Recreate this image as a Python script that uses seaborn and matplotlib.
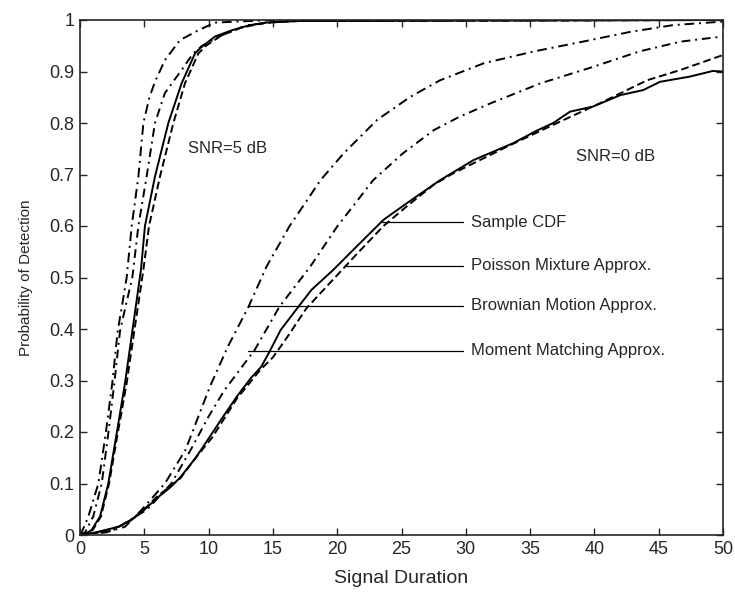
import matplotlib
matplotlib.use('Agg')
from matplotlib import pyplot as plt
import pandas as pd
import seaborn as sns

# curve names
sample = 'Sample CDF'
poisson = 'Poisson Mixture Approx.'
brownian = 'Brownian Motion Approx.'
moment = 'Moment Matching Approx.'

# SNR = 5 dB
sc5_x = [0, 0.5, 0.91, 1.56, 2.2, 2.85, 3.5, 4.07, 4.74, 5.05, 5.83, 6.87, 7.9, 8.94, 9.33, 10.5, 11.8, 13.2, 14.5, 17, 50]
sc5_y = [0, 0.003, 0.01, 0.036, 0.10, 0.197, 0.295, 0.396, 0.515, 0.60, 0.696, 0.80, 0.877, 0.935, 0.945, 0.968, 0.98, 0.99, 0.995, 0.998, 1.0]
pm5_x = [0, 1.0, 1.63, 2.26, 2.93, 3.63, 4.22, 4.93, 5.37, 6.22, 7.26, 8.16, 9.2, 9.8, 11, 12.5, 14.5, 17, 50]
pm5_y = [0, 0.01, 0.036, 0.10, 0.197, 0.295, 0.396, 0.515, 0.60, 0.696, 0.80, 0.877, 0.935, 0.95, 0.97, 0.985, 0.995, 0.998, 1.0]
bm5_x = [0, 0.13, 0.65, 1.43, 2.0, 2.51, 2.93, 3.3, 3.63, 4.02, 4.54, 4.93, 5.4, 5.83, 6.6, 7.78, 9.2, 10.5, 15, 50]
bm5_y = [0, 0.005, 0.036, 0.10, 0.197, 0.295, 0.396, 0.45, 0.50, 0.60, 0.696, 0.80, 0.85, 0.88, 0.922, 0.961, 0.98, 0.995, 1.0, 1.0]
mm5_x = [0, 0.39, 1.03, 1.69, 2.2, 2.67, 3.11, 3.6, 4.07, 4.54, 5.18, 5.83, 6.6, 7.9, 8.8, 9.5, 11, 13, 16, 50]
mm5_y = [0, 0.005, 0.036, 0.10, 0.197, 0.295, 0.396, 0.45, 0.50, 0.60, 0.696, 0.80, 0.858, 0.903, 0.935, 0.95, 0.97, 0.99, 0.998, 1.0]

# SNR = 0 dB
sc0_x = [0, 1.2, 3.0, 4.0, 5.0, 6.1, 7.0, 7.8, 9.0, 10.1, 11.0, 12.2, 13.3, 14.1, 14.8, 15.6, 17.1, 18.0, 19.7, 21.5, 23.6,
         25.4, 28.0, 30.6, 33.7, 35.5, 36.8, 38.1, 39.9, 42.0, 43.8, 45.1, 47.4, 49.2, 50]
sc0_y = [0, 0.005, 0.016, 0.029, 0.049, 0.074, 0.092, 0.112, 0.15, 0.191, 0.225, 0.269, 0.305, 0.327, 0.359, 0.398, 0.447, 0.476, 0.515, 0.56, 0.612,
         0.644, 0.689, 0.728, 0.761, 0.785, 0.80, 0.822, 0.832, 0.854, 0.864, 0.88, 0.89, 0.901, 0.90]
pm0_x = [0, 1.5, 3.0, 4.0, 5.0, 6.0, 7.8, 9.0, 10.3, 12.2, 14.0, 15.0, 16.0, 17.6, 20.2, 21.5, 23.6, 25.4, 27.5, 29.0,
         33.2, 37.1, 40.4, 44.1, 46.7, 50]
pm0_y = [0, 0.005, 0.016, 0.03, 0.05, 0.075, 0.11, 0.15, 0.19, 0.265, 0.32, 0.345, 0.38, 0.44, 0.51, 0.545, 0.60, 0.638, 0.68, 0.702,
         0.754, 0.80, 0.838, 0.883, 0.903, 0.932]
bm0_x = [0, 2.0, 3.5, 4.8, 6.6, 8.2, 10.1, 11.5, 13.1, 14.5, 16.3, 17.6, 18.7, 20.5, 23.1, 25.7, 28.0, 31.4, 35.3, 39.1, 42.8, 46.1, 50]
bm0_y = [0, 0.005, 0.016, 0.049, 0.10, 0.165, 0.288, 0.366, 0.443, 0.521, 0.60, 0.648, 0.689, 0.741, 0.806, 0.851, 0.883, 0.916, 0.939, 0.958, 0.977, 0.99, 0.997]
mm0_x = [0, 2.5, 5.2, 7.1, 8.6, 10.0, 11.2, 12.4, 13.6, 15.5, 17.9, 20.0, 22.8, 25.1, 27.5, 29.5, 31.9, 35.8, 39.9, 43.5, 46.7, 50]
mm0_y = [0, 0.008, 0.049, 0.10, 0.165, 0.23, 0.28, 0.32, 0.36, 0.443, 0.521, 0.599, 0.689, 0.741, 0.786, 0.812, 0.838, 0.877, 0.909, 0.939, 0.958, 0.968]

# annotation lines: label, y level, start x
ann_labels = [sample, poisson, brownian, moment]
ann_y = [0.607, 0.523, 0.445, 0.358]
ann_x0 = [23.45, 20.7, 13.1, 13.1]

xticks = list(range(0, 51, 5))
yticks = [i / 10 for i in range(11)]
yticklabels = ['0', '0.1', '0.2', '0.3', '0.4', '0.5', '0.6', '0.7', '0.8', '0.9', '1']

frames = []
for snr, parts in [('5', [(sample, sc5_x, sc5_y), (poisson, pm5_x, pm5_y), (brownian, bm5_x, bm5_y), (moment, mm5_x, mm5_y)]),
                   ('0', [(sample, sc0_x, sc0_y), (poisson, pm0_x, pm0_y), (brownian, bm0_x, bm0_y), (moment, mm0_x, mm0_y)])]:
    for name, xs, ys in parts:
        frames.append(pd.DataFrame({'duration': xs, 'pd': ys, 'curve': name, 'snr': snr}))
df = pd.concat(frames, ignore_index=True)

sns.set_style('ticks')
plt.rcParams['font.family'] = ['Liberation Sans', 'DejaVu Sans']

fig = plt.figure(figsize=(7.35, 5.99), dpi=100)
ax = fig.add_axes([80 / 735, 1 - 535 / 599, 643 / 735, 515 / 599])

dashes = {sample: '', poisson: (4, 2), brownian: (5, 2.5, 1, 2.5), moment: (4.5, 2.5, 1, 2.5)}
sns.lineplot(data=df, x='duration', y='pd', style='curve', units='snr', estimator=None, sort=False,
             dashes=dashes, color='k', linewidth=1.4, legend=False, ax=ax)

for lab, yv, x0 in zip(ann_labels, ann_y, ann_x0):
    ax.plot([x0, 29.8], [yv, yv], color='k', linewidth=0.9)
    ax.text(30.4, yv, lab, fontsize=12, va='center', ha='left')

ax.text(8.4, 0.75, 'SNR=5 dB', fontsize=12, va='center', ha='left')
ax.text(38.6, 0.735, 'SNR=0 dB', fontsize=12, va='center', ha='left')

ax.set_xlim(0, 50)
ax.set_ylim(0, 1)
ax.set_xticks(xticks)
ax.set_xticklabels([str(t) for t in xticks])
ax.set_yticks(yticks)
ax.set_yticklabels(yticklabels)
ax.tick_params(direction='in', length=5, width=1, top=True, right=True, labelsize=13, pad=4)
for s in ax.spines.values():
    s.set_linewidth(1.2)
    s.set_visible(True)
ax.set_xlabel('Signal Duration', fontsize=14, labelpad=9)
ax.set_ylabel('Probability of Detection', fontsize=11, labelpad=12)

plt.savefig('out.png', dpi=100)
